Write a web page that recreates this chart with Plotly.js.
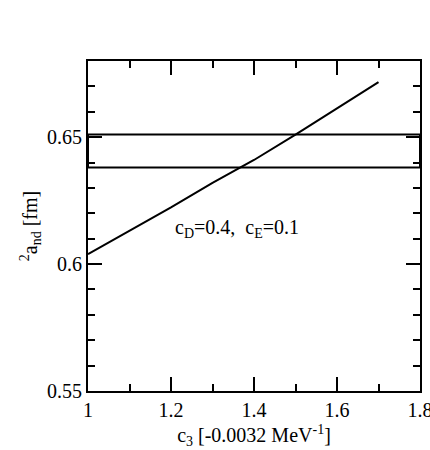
<!DOCTYPE html>
<html>
<head>
<meta charset="utf-8">
<script src="https://cdn.plot.ly/plotly-3.0.1.min.js"></script>
<style>html,body{margin:0;padding:0;background:#fff;}#chart{width:430px;height:450px;}</style>
</head>
<body>
<div id="chart"></div>
<script>
// c3 values [-0.0032 MeV^-1]
const c3 = [1.0, 1.1, 1.2, 1.3, 1.4, 1.5, 1.6, 1.7];
// 2a_nd [fm]
const aNd = [0.6039, 0.6131, 0.6223, 0.632, 0.641, 0.651, 0.6613, 0.6717];
// experimental band
const bandX = [1.0, 1.8];
const bandLow = 0.638;
const bandHigh = 0.651;
const xTicks = [1, 1.2, 1.4, 1.6, 1.8];
const yTicks = [0.55, 0.6, 0.65];
const label = 'c<sub>D</sub>=0.4,  c<sub>E</sub>=0.1';

const font = {family: 'Liberation Serif', size: 20, color: '#000000'};

const traces = [
  {x: [bandX[0], bandX[1], bandX[1], bandX[0], bandX[0]],
   y: [bandLow, bandLow, bandHigh, bandHigh, bandLow],
   mode: 'lines', line: {color: '#000', width: 2}, hoverinfo: 'skip'},
  {x: c3, y: aNd, mode: 'lines', line: {color: '#000', width: 2}}
];

const axisCommon = {
  showgrid: false, zeroline: false, showline: true, linecolor: '#000', linewidth: 2,
  mirror: 'allticks', ticks: 'inside', tickcolor: '#000', tickwidth: 2, ticklen: 14,
  tickfont: font, ticklabeloverflow: 'allow',
  minor: {ticks: 'inside', ticklen: 7, tickwidth: 2, tickcolor: '#000', showgrid: false}
};

const layout = {
  width: 430, height: 450,
  margin: {l: 88, r: 10, t: 61, b: 59},
  paper_bgcolor: '#fff', plot_bgcolor: '#fff',
  showlegend: false,
  font: font,
  xaxis: Object.assign({}, axisCommon, {
    range: [1, 1.8], tickmode: 'array', tickvals: xTicks, ticktext: xTicks.map(String),
    minor: Object.assign({}, axisCommon.minor, {dtick: 0.1, tick0: 1}),
    title: {text: 'c<sub>3</sub> [-0.0032 MeV<sup>-1</sup>]', font: font, standoff: 8}
  }),
  yaxis: Object.assign({}, axisCommon, {
    range: [0.55, 0.68], tickmode: 'array', tickvals: yTicks, ticktext: yTicks.map(String),
    minor: Object.assign({}, axisCommon.minor, {dtick: 0.01, tick0: 0.55}),
    title: {text: '<sup>2</sup>a<sub>nd</sub> [fm]', font: font, standoff: 4}
  }),
  annotations: [{
    x: 1.36, y: 0.614, xref: 'x', yref: 'y', text: label, showarrow: false,
    font: font
  }]
};

Plotly.newPlot('chart', traces, layout, {displayModeBar: false, staticPlot: true});
</script>
</body>
</html>
